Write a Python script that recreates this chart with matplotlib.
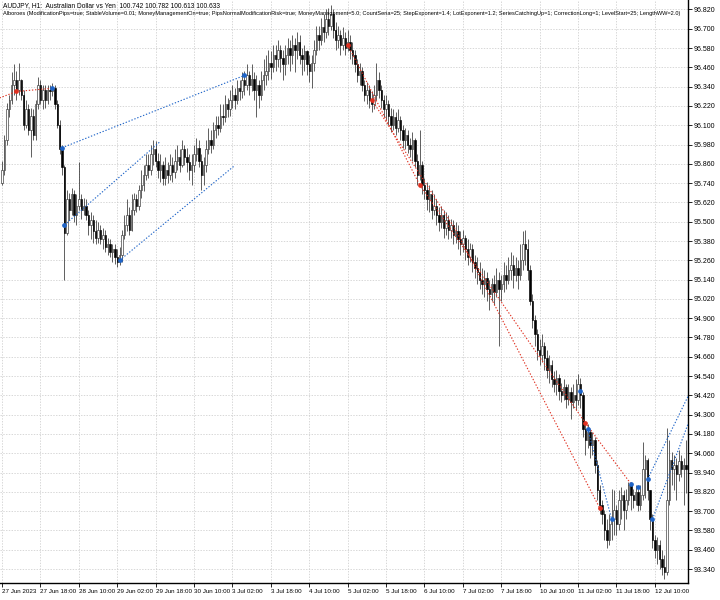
import numpy as np
import matplotlib
matplotlib.use("Agg")
import matplotlib.pyplot as plt

plt.rcParams["font.family"] = ["Liberation Sans Narrow", "Liberation Sans", "DejaVu Sans"]

# H1 candles, AUDJPY 27 Jun 2023 02:00 .. 12 Jul 2023
first_open = 95.74
close = [95.82, 96.01, 96.20, 96.26, 96.35, 96.38, 96.32, 96.38, 96.29, 96.10,
         96.20, 96.07, 96.16, 96.04, 96.23, 96.35, 96.26, 96.32, 96.26, 96.32,
         96.31, 96.33, 96.23, 96.10, 95.95, 95.84, 95.43, 95.64, 95.57, 95.67,
         95.54, 95.60, 95.64, 95.57, 95.60, 95.54, 95.48, 95.51, 95.44, 95.40,
         95.45, 95.39, 95.42, 95.34, 95.36, 95.31, 95.33, 95.28, 95.25, 95.29,
         95.42, 95.48, 95.54, 95.45, 95.57, 95.64, 95.60, 95.70, 95.73, 95.79,
         95.85, 95.82, 95.92, 95.95, 95.88, 95.82, 95.85, 95.77, 95.82, 95.79,
         95.85, 95.81, 95.88, 95.90, 95.85, 95.95, 95.90, 95.87, 95.82, 95.85,
         95.92, 95.96, 95.88, 95.79, 95.85, 95.95, 96.01, 95.98, 96.07, 96.10,
         96.08, 96.16, 96.15, 96.23, 96.20, 96.26, 96.29, 96.26, 96.33, 96.31,
         96.38, 96.35, 96.41, 96.35, 96.39, 96.32, 96.35, 96.29, 96.38, 96.41,
         96.44, 96.49, 96.46, 96.54, 96.51, 96.57, 96.52, 96.48, 96.54, 96.58,
         96.54, 96.60, 96.57, 96.62, 96.54, 96.51, 96.56, 96.48, 96.44, 96.49,
         96.57, 96.66, 96.63, 96.71, 96.68, 96.76, 96.72, 96.79, 96.69, 96.63,
         96.66, 96.60, 96.64, 96.58, 96.62, 96.57, 96.54, 96.48, 96.41, 96.44,
         96.35, 96.29, 96.32, 96.26, 96.23, 96.29, 96.38, 96.32, 96.26, 96.20,
         96.23, 96.16, 96.10, 96.15, 96.08, 96.13, 96.07, 96.01, 96.04, 95.98,
         95.95, 96.01, 95.88, 95.79, 95.85, 95.73, 95.70, 95.64, 95.67, 95.57,
         95.60, 95.54, 95.50, 95.54, 95.46, 95.51, 95.45, 95.48, 95.42, 95.44,
         95.39, 95.36, 95.40, 95.33, 95.28, 95.33, 95.25, 95.21, 95.19, 95.14,
         95.11, 95.15, 95.08, 95.05, 95.11, 95.06, 95.14, 95.08, 95.11, 95.17,
         95.14, 95.20, 95.23, 95.17, 95.21, 95.17, 95.26, 95.36, 95.33, 95.20,
         95.01, 94.89, 94.80, 94.70, 94.67, 94.73, 94.65, 94.58, 94.61, 94.52,
         94.49, 94.53, 94.45, 94.42, 94.47, 94.40, 94.44, 94.38, 94.42, 94.39,
         94.49, 94.42, 94.21, 94.14, 94.19, 94.11, 94.14, 93.99, 93.83, 93.74,
         93.68, 93.58, 93.52, 93.62, 93.65, 93.71, 93.62, 93.77, 93.80, 93.71,
         93.77, 93.86, 93.80, 93.77, 93.82, 93.74, 93.80, 93.96, 94.02, 93.83,
         93.65, 93.52, 93.46, 93.49, 93.40, 93.35, 93.32, 93.77, 94.02, 93.96,
         93.99, 93.93, 94.01, 93.96, 93.99, 93.96]
high = [95.88, 96.04, 96.24, 96.29, 96.43, 96.48, 96.44, 96.49, 96.39, 96.32,
        96.26, 96.23, 96.21, 96.20, 96.26, 96.40, 96.38, 96.35, 96.35, 96.35,
        96.35, 96.36, 96.35, 96.26, 96.13, 95.98, 95.85, 95.70, 95.68, 95.71,
        95.70, 95.67, 95.87, 95.67, 95.65, 95.64, 95.57, 95.56, 95.54, 95.51,
        95.50, 95.48, 95.46, 95.45, 95.40, 95.39, 95.36, 95.36, 95.33, 95.34,
        95.45, 95.54, 95.64, 95.59, 95.67, 95.68, 95.67, 95.73, 95.82, 95.85,
        95.92, 95.92, 95.98, 96.01, 96.00, 95.93, 95.92, 95.88, 95.90, 95.87,
        95.92, 95.90, 95.95, 95.98, 95.95, 96.01, 95.98, 95.96, 95.92, 95.92,
        95.98, 96.02, 96.01, 95.92, 95.90, 96.01, 96.08, 96.07, 96.12, 96.16,
        96.16, 96.23, 96.23, 96.29, 96.27, 96.32, 96.35, 96.33, 96.38, 96.38,
        96.43, 96.44, 96.48, 96.44, 96.48, 96.43, 96.41, 96.38, 96.44, 96.51,
        96.54, 96.57, 96.56, 96.60, 96.60, 96.63, 96.60, 96.57, 96.60, 96.64,
        96.63, 96.66, 96.64, 96.68, 96.66, 96.58, 96.60, 96.57, 96.54, 96.54,
        96.63, 96.72, 96.72, 96.77, 96.79, 96.82, 96.83, 96.85, 96.82, 96.74,
        96.72, 96.69, 96.71, 96.68, 96.69, 96.66, 96.62, 96.57, 96.51, 96.49,
        96.46, 96.38, 96.37, 96.35, 96.31, 96.35, 96.49, 96.43, 96.35, 96.29,
        96.29, 96.26, 96.21, 96.20, 96.18, 96.20, 96.16, 96.10, 96.08, 96.07,
        96.02, 96.06, 96.02, 95.92, 96.07, 95.88, 95.77, 95.75, 95.73, 95.70,
        95.67, 95.64, 95.59, 95.60, 95.57, 95.56, 95.54, 95.52, 95.51, 95.50,
        95.48, 95.44, 95.45, 95.42, 95.39, 95.37, 95.36, 95.29, 95.28, 95.25,
        95.21, 95.20, 95.19, 95.14, 95.15, 95.17, 95.21, 95.19, 95.17, 95.25,
        95.23, 95.28, 95.31, 95.29, 95.28, 95.26, 95.36, 95.44, 95.45, 95.39,
        95.23, 95.05, 94.92, 94.83, 94.77, 94.80, 94.75, 94.70, 94.67, 94.64,
        94.57, 94.58, 94.55, 94.50, 94.52, 94.49, 94.49, 94.47, 94.49, 94.52,
        94.55, 94.53, 94.44, 94.24, 94.24, 94.21, 94.19, 94.16, 94.02, 93.86,
        93.77, 93.71, 93.65, 93.68, 93.84, 93.83, 93.74, 93.83, 93.85, 93.83,
        93.84, 93.88, 93.88, 93.84, 93.86, 93.84, 93.86, 94.13, 94.05, 94.03,
        93.83, 93.68, 93.55, 93.54, 93.52, 93.46, 93.43, 94.22, 94.14, 94.07,
        94.05, 94.03, 94.08, 94.05, 94.03, 94.14]
low = [95.73, 95.79, 95.98, 96.15, 96.23, 96.29, 96.26, 96.29, 96.26, 96.07,
       96.08, 96.04, 95.90, 96.01, 96.01, 96.20, 96.23, 96.20, 96.21, 96.23,
       96.26, 96.28, 96.20, 96.08, 95.92, 95.79, 95.14, 95.42, 95.51, 95.54,
       95.50, 95.48, 95.57, 95.52, 95.54, 95.51, 95.42, 95.39, 95.37, 95.36,
       95.37, 95.36, 95.33, 95.31, 95.29, 95.28, 95.25, 95.24, 95.22, 95.23,
       95.25, 95.39, 95.44, 95.42, 95.44, 95.54, 95.56, 95.57, 95.65, 95.69,
       95.76, 95.77, 95.79, 95.85, 95.84, 95.77, 95.75, 95.73, 95.73, 95.74,
       95.76, 95.75, 95.77, 95.82, 95.81, 95.84, 95.85, 95.81, 95.76, 95.73,
       95.81, 95.88, 95.84, 95.70, 95.73, 95.81, 95.92, 95.93, 95.95, 96.02,
       96.04, 96.06, 96.10, 96.12, 96.15, 96.16, 96.21, 96.20, 96.23, 96.26,
       96.27, 96.29, 96.32, 96.29, 96.31, 96.26, 96.15, 96.21, 96.26, 96.32,
       96.35, 96.38, 96.39, 96.43, 96.44, 96.46, 96.43, 96.38, 96.41, 96.48,
       96.44, 96.48, 96.43, 96.51, 96.48, 96.41, 96.44, 96.41, 96.37, 96.33,
       96.44, 96.54, 96.57, 96.60, 96.62, 96.64, 96.66, 96.69, 96.64, 96.57,
       96.58, 96.54, 96.57, 96.54, 96.56, 96.51, 96.48, 96.43, 96.37, 96.35,
       96.31, 96.25, 96.23, 96.21, 96.18, 96.20, 96.26, 96.27, 96.21, 96.15,
       96.13, 96.10, 96.06, 96.07, 96.04, 96.06, 96.01, 95.96, 95.95, 95.93,
       95.90, 95.88, 95.84, 95.73, 95.76, 95.67, 95.64, 95.57, 95.56, 95.52,
       95.54, 95.48, 95.44, 95.46, 95.40, 95.42, 95.39, 95.40, 95.36, 95.37,
       95.33, 95.29, 95.31, 95.26, 95.23, 95.25, 95.19, 95.15, 95.11, 95.08,
       95.05, 95.03, 95.01, 94.95, 95.01, 94.98, 95.03, 94.73, 95.01, 95.06,
       95.08, 95.11, 95.14, 95.09, 95.13, 95.08, 95.14, 95.20, 95.23, 95.14,
       94.98, 94.84, 94.73, 94.64, 94.61, 94.63, 94.58, 94.53, 94.50, 94.47,
       94.44, 94.42, 94.39, 94.38, 94.39, 94.34, 94.36, 94.27, 94.34, 94.33,
       94.36, 94.34, 94.16, 94.05, 94.09, 94.03, 94.05, 93.94, 93.77, 93.68,
       93.62, 93.52, 93.47, 93.49, 93.52, 93.55, 93.55, 93.58, 93.65, 93.58,
       93.65, 93.74, 93.71, 93.72, 93.74, 93.70, 93.71, 93.77, 93.78, 93.77,
       93.58, 93.47, 93.41, 93.37, 93.34, 93.30, 93.28, 93.30, 93.74, 93.86,
       93.83, 93.77, 93.89, 93.91, 93.74, 93.81]

time_labels = ["27 Jun 2023", "27 Jun 18:00", "28 Jun 10:00", "29 Jun 02:00",
               "29 Jun 18:00", "30 Jun 10:00", "3 Jul 02:00", "3 Jul 18:00",
               "4 Jul 10:00", "5 Jul 02:00", "5 Jul 18:00", "6 Jul 10:00",
               "7 Jul 02:00", "7 Jul 18:00", "10 Jul 10:00", "11 Jul 02:00",
               "11 Jul 18:00", "12 Jul 10:00"]
label_every = 16

price_ticks = [93.340, 93.460, 93.580, 93.700, 93.820, 93.940, 94.060, 94.180,
               94.300, 94.420, 94.540, 94.660, 94.780, 94.900, 95.020, 95.140,
               95.260, 95.380, 95.500, 95.620, 95.740, 95.860, 95.980, 96.100,
               96.220, 96.340, 96.460, 96.580, 96.700, 96.820]

# trade history lines: (bar start, price start, bar end, price end, colour)
trade_lines = [
    (-1, 96.27, 6, 96.31, "red"),
    (6, 96.31, 21, 96.33, "red"),
    (25, 95.96, 101, 96.41, "blue"),
    (26, 95.48, 66, 96.00, "blue"),
    (49, 95.26, 97, 95.85, "blue"),
    (144, 96.60, 174, 95.73, "red"),
    (154, 96.26, 189, 95.45, "red"),
    (174, 95.73, 243, 94.25, "red"),
    (189, 95.45, 249, 93.72, "red"),
    (243, 94.25, 262, 93.87, "red"),
    (244, 94.21, 254, 93.65, "blue"),
    (269, 93.90, 286, 94.42, "blue"),
    (271, 93.65, 286, 94.25, "blue"),
]
buy_marks = [(21, 96.33), (25, 95.96), (26, 95.48), (49, 95.26), (101, 96.41),
             (241, 94.45), (244, 94.21), (254, 93.65), (262, 93.87),
             (265, 93.85), (269, 93.90), (271, 93.65)]
sell_marks = [(6, 96.31), (144, 96.60), (154, 96.26), (174, 95.73),
              (243, 94.25), (249, 93.72)]

header1 = "AUDJPY, H1:  Australian Dollar vs Yen  100.742 100.782 100.613 100.633"
header2 = ("Alboroes (ModificationPips=true; StableVolume=0.01; MoneyManagementOn=true; "
           "PipsNormalModificationRisk=true; MoneyManagement=5.0; CountSeria=25; "
           "StepExponent=1.4; LotExponent=1.2; SeriesCatchingUp=1; CorrectionLong=1; "
           "LevelStart=25; LengthWW=2.0)")

fig = plt.figure(figsize=(7.2, 6.0), dpi=100)
ax = fig.add_axes([0.0, 17 / 600, 688 / 720, 583 / 600])

n = len(close)
idx = np.arange(n)
opens = np.array([first_open] + close[:-1])
closes = np.array(close)

# wicks
ax.vlines(idx, low, high, color="#202020", linewidth=0.5, zorder=3)
# bodies
bull = closes >= opens
body_lo = np.minimum(opens, closes)
body_h = np.maximum(np.abs(closes - opens), 0.004)
ax.bar(idx[bull], body_h[bull], bottom=body_lo[bull], width=0.6,
       color="white", edgecolor="#303030", linewidth=0.45, zorder=4)
ax.bar(idx[~bull], body_h[~bull], bottom=body_lo[~bull], width=0.6,
       color="black", edgecolor="black", linewidth=0.45, zorder=4)

for x0, y0, x1, y1, c in trade_lines:
    col = "#1e64c8" if c == "blue" else "#e03020"
    ax.plot([x0, x1], [y0, y1], linestyle=(0, (1.2, 1.6)), color=col,
            linewidth=0.8, zorder=5)
for x, y in buy_marks:
    ax.plot(x, y, marker="o", markersize=2.4, color="#1e64c8", zorder=6)
for x, y in sell_marks:
    ax.plot(x, y, marker="o", markersize=2.4, color="#e03020", zorder=6)

ax.set_xlim(-0.85, 285.8)
ax.set_ylim(93.253, 96.879)

ax.yaxis.tick_right()
ax.set_yticks(price_ticks)
ax.set_yticklabels([f"{p:.3f}" for p in price_ticks], fontsize=5.0)
xt = [i * label_every for i in range(len(time_labels))]
ax.set_xticks(xt)
ax.set_xticklabels(time_labels, fontsize=4.5, ha="left")
ax.tick_params(axis="both", length=3, width=0.6, pad=1, colors="black")
ax.grid(True, color="#c8c8c8", linestyle=(0, (2, 2)), linewidth=0.5)
ax.set_axisbelow(True)
for s in ("top", "left"):
    ax.spines[s].set_visible(False)
for s in ("right", "bottom"):
    ax.spines[s].set_linewidth(1.0)

fig.text(3 / 720, 1 - 6 / 600, header1, fontsize=4.8, va="center", ha="left")
fig.text(3 / 720, 1 - 14 / 600, header2, fontsize=4.05, va="center", ha="left")

fig.savefig("out.png", dpi=100)
plt.close(fig)
